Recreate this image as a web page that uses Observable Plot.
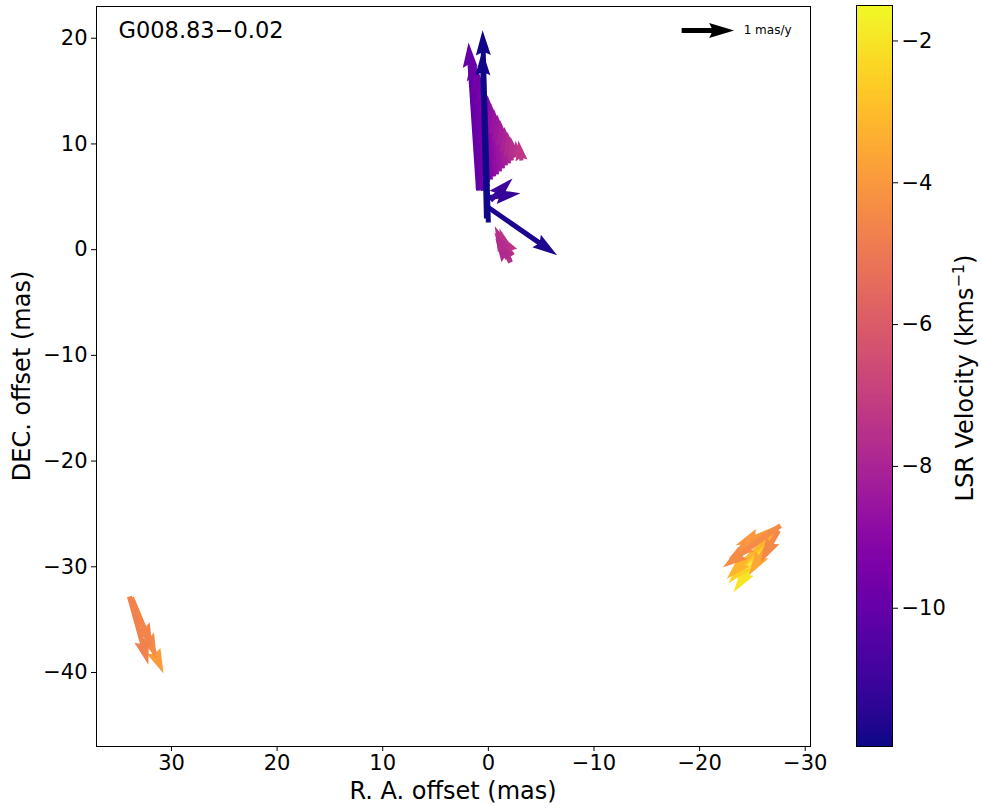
<!DOCTYPE html>
<html>
<head>
<meta charset="utf-8">
<script src="https://cdn.jsdelivr.net/npm/d3@7"></script>
<script src="https://cdn.jsdelivr.net/npm/@observablehq/plot@0.6"></script>
<style>
  body { margin: 0; background: #fff; }
  #wrap { position: relative; width: 981px; height: 810px; font-family: "DejaVu Sans", sans-serif; color: #000; }
  #main { position: absolute; left: 0; top: 0; }
  #cbar { position: absolute; left: 840px; top: 0; }
  .lbl { position: absolute; white-space: nowrap; font-size: 24px; transform: translate(-50%, -50%); }
  .rot { transform: translate(-50%, -50%) rotate(-90deg); }
</style>
</head>
<body>
<div id="wrap">
  <div id="main"></div>
  <div id="cbar"></div>
  <div class="lbl" style="left:453px; top:791px;">R. A. offset (mas)</div>
  <div class="lbl rot" style="left:22px; top:376px;">DEC. offset (mas)</div>
  <div class="lbl rot" style="left:964px; top:378px;">LSR Velocity (kms<sup style="font-size:16px">−1</sup>)</div>
</div>
<script>
// ---- data: maser spots (offsets in mas, proper motions in mas/y, Vlsr in km/s)
const raOff  = [33.88, 33.79, 33.69, 33.98,
                -26.90, -27.00, -27.09, -27.28, -27.28, -27.38, -27.47, -27.66,
                0.46, 0.36,
                0.93, 0.65, 0.36, 0.08, -0.20, -0.49, -0.77, -1.06, -1.34, -1.62, -1.91, -2.19, -2.48, -2.85, -3.14,
                -2.10, -2.00, -2.29, -1.81, -1.62,
                -0.20, -0.11, 0.00, 0.18, 0.00];
const decOff = [-33.00, -32.91, -33.19, -32.81,
                -26.95, -26.85, -26.66, -26.66, -26.38, -26.29, -26.57, -26.10,
                5.59, 6.07,
                5.59, 5.88, 6.16, 6.35, 6.63, 6.92, 7.11, 7.39, 7.68, 7.96, 8.15, 8.43, 8.72, 8.81, 8.43,
                -1.22, -1.03, -0.55, -0.84, -0.08,
                4.65, 4.93, 3.99, 2.95, 2.57];
const pmRA   = [-0.63, -0.48, -0.38, -0.36,
                0.74, 0.86, 0.91, 0.53, 0.78, 0.93, 0.34, 1.10,
                0.08, 0.06,
                0.19, 0.17, 0.15, 0.13, 0.11, 0.11, 0.11, 0.11, 0.10, 0.10, 0.08, 0.08, 0.08, 0.06, 0.06,
                0.30, 0.19, 0.29, 0.23, 0.21,
                -0.42, -0.59, -1.31, 0.08, 0.11];
const pmDec  = [-1.43, -1.16, -0.91, -1.30,
                -1.10, -0.95, -0.90, -0.84, -0.32, -0.59, -0.61, -0.80,
                0.53, 0.70,
                2.82, 2.51, 2.21, 1.98, 1.73, 1.54, 1.37, 1.20, 1.03, 0.86, 0.70, 0.55, 0.40, 0.30, 0.38,
                0.69, 0.61, 0.44, 0.38, 0.34,
                0.42, 0.08, -0.91, 3.20, 3.66];
const vlsr   = [-3.9, -4.4, -4.6, -4.7,
                -2.0, -2.5, -3.2, -3.6, -4.0, -4.2, -4.5, -4.4,
                -10.2, -9.8,
                -10.0, -9.8, -9.6, -9.4, -9.2, -9.0, -8.8, -8.6, -8.4, -8.2, -8.0, -7.8, -7.6, -7.4, -7.3,
                -7.6, -7.5, -7.4, -7.8, -7.7,
                -11.0, -11.2, -11.7, -11.8, -11.9];

const xTicks = [30, 20, 10, 0, -10, -20, -30];
const yTicks = [20, 10, 0, -10, -20, -30, -40];
const cTicks = [-2, -4, -6, -8, -10];
const xDomain = [37.1, -30.5];
const yDomain = [-47, 23];
const vDomain = [-11.95, -1.5];
const sourceName = "G008.83−0.02";
const keyRA = [-18.3];
const keyDec = [20.73];
const keySpeed = [1];
const keyLabel = ["1 mas/y"];

const spots = raOff.map((x, i) => ({
  x, y: decOff[i], v: vlsr[i],
  len: Math.hypot(pmRA[i], pmDec[i]),
  rot: Math.atan2(-pmRA[i], pmDec[i]) * 180 / Math.PI
}));
const key = keyRA.map((x, i) => ({x, y: keyDec[i], len: keySpeed[i], rot: 90, label: keyLabel[i]}));

const fmt = d => (d < 0 ? "−" + Math.abs(d) : String(d));

// matplotlib-like quiver arrow (filled polygon)
const quiver = {
  draw(context, l) {
    let w = 5, hw = 15, hl = 25, ha = 22.5;
    if (l < hl) { const s = l / hl; w *= s; hw *= s; hl *= s; ha *= s; }
    context.moveTo(-w / 2, 0);
    context.lineTo(-w / 2, -(l - ha));
    context.lineTo(-hw / 2, -(l - hl));
    context.lineTo(0, -l);
    context.lineTo(hw / 2, -(l - hl));
    context.lineTo(w / 2, -(l - ha));
    context.lineTo(w / 2, 0);
    context.closePath();
  }
};

const pxPerUnit = 52.5; // 1 mas/y key arrow length in pixels

const main = Plot.plot({
  width: 830, height: 810,
  marginLeft: 96, marginRight: 20, marginTop: 6, marginBottom: 64,
  style: {fontFamily: "DejaVu Sans", fontSize: "21px", color: "#000", background: "#fff"},
  x: {domain: xDomain},
  y: {domain: yDomain},
  color: {type: "linear", scheme: "plasma", domain: vDomain},
  length: {type: "linear", domain: [0, 1], range: [0, pxPerUnit]},
  marks: [
    Plot.vector(spots, {x: "x", y: "y", length: "len", rotate: "rot", anchor: "start",
      shape: quiver, fill: "v", stroke: "none"}),
    Plot.vector(key, {x: "x", y: "y", length: "len", rotate: "rot", anchor: "start",
      shape: quiver, fill: "#000", stroke: "none"}),
    Plot.text(key, {x: "x", y: "y", text: "label", dx: 62, textAnchor: "start", fontSize: 12, fill: "#000"}),
    Plot.text([sourceName], {frameAnchor: "top-left", text: d => d, dx: 22, dy: 24,
      textAnchor: "start", lineAnchor: "middle", fontSize: 22.5, fill: "#000"}),
    Plot.frame({stroke: "#000", strokeWidth: 1}),
    Plot.axisX(xTicks, {tickFormat: fmt, tickSize: 5, tickPadding: 4, fontSize: 21, label: null, stroke: "#000", fill: "#000"}),
    Plot.axisY(yTicks, {tickFormat: fmt, tickSize: 5, tickPadding: 4, fontSize: 21, label: null, stroke: "#000", fill: "#000"})
  ]
});
document.getElementById("main").appendChild(main);

// colorbar
const N = 300;
const bands = d3.range(N).map(i => {
  const a = vDomain[0] + (vDomain[1] - vDomain[0]) * i / N;
  const b = vDomain[0] + (vDomain[1] - vDomain[0]) * (i + 1) / N;
  return {y1: a, y2: b, v: (a + b) / 2};
});
const cbar = Plot.plot({
  width: 141, height: 810,
  marginLeft: 16, marginRight: 89, marginTop: 5, marginBottom: 64,
  style: {fontFamily: "DejaVu Sans", fontSize: "21px", color: "#000", background: "transparent"},
  x: {domain: [0, 1], axis: null},
  y: {domain: vDomain},
  color: {type: "linear", scheme: "plasma", domain: vDomain},
  marks: [
    Plot.rect(bands, {x1: 0, x2: 1, y1: "y1", y2: "y2", fill: "v", inset: 0, shapeRendering: "crispEdges"}),
    Plot.frame({stroke: "#000", strokeWidth: 1}),
    Plot.axisY(cTicks, {anchor: "right", tickFormat: fmt, tickSize: 5, tickPadding: 4, fontSize: 21, label: null, stroke: "#000", fill: "#000"})
  ]
});
document.getElementById("cbar").appendChild(cbar);
</script>
</body>
</html>
